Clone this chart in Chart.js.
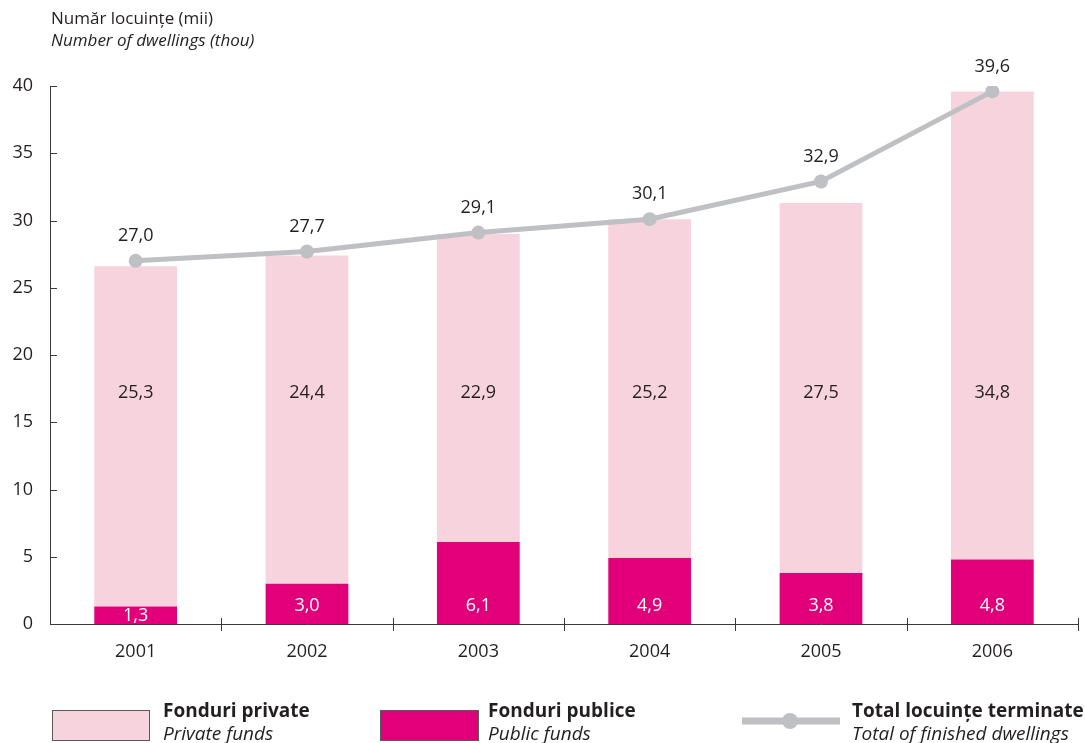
<!DOCTYPE html>
<html>
<head>
<meta charset="utf-8">
<script src="https://cdn.jsdelivr.net/npm/chart.js@4"></script>
<style>
  body { margin: 0; background: #fff; }
  canvas { display: block; }
</style>
</head>
<body>
<canvas id="dwellingsChart" width="1085" height="743"></canvas>
<script>
// date (mii locuinte)
const years = ["2001", "2002", "2003", "2004", "2005", "2006"];
const publicFunds = [1.3, 3.0, 6.1, 4.9, 3.8, 4.8];
const privateFunds = [25.3, 24.4, 22.9, 25.2, 27.5, 34.8];
const totalFinished = [27.0, 27.7, 29.1, 30.1, 32.9, 39.6];
const yTicks = [0, 5, 10, 15, 20, 25, 30, 35, 40];

const PINK = "#F7D3DE";
const MAGENTA = "#E2007A";
const GREY = "#BFC0C4";
const AXIS = "#3a3a3a";
const FONT = "'Open Sans', sans-serif";

const fmt = v => v.toFixed(1).replace(".", ",");

// etichete, tick-uri si legenda desenate pe canvas
const extras = {
  id: "extras",
  afterDraw(chart) {
    const ctx = chart.ctx;
    const x = chart.scales.x;
    const y = chart.scales.y;
    ctx.save();

    // tick-uri axa Y (spre interior)
    ctx.strokeStyle = AXIS;
    ctx.lineWidth = 1;
    yTicks.forEach(t => {
      const py = Math.round(y.getPixelForValue(t)) + 0.5;
      ctx.beginPath();
      ctx.moveTo(x.left, py);
      ctx.lineTo(x.left + 7, py);
      ctx.stroke();
    });
    // tick-uri axa X intre categorii
    for (let i = 1; i <= years.length; i++) {
      const px = Math.round(x.getPixelForValue(i - 0.5)) + 0.5;
      ctx.beginPath();
      ctx.moveTo(px, y.bottom - 6);
      ctx.lineTo(px, y.bottom + 7);
      ctx.stroke();
    }

    // valori fonduri private / publice
    ctx.textAlign = "center";
    ctx.textBaseline = "middle";
    ctx.font = "18px " + FONT;
    const pubMeta = chart.getDatasetMeta(0);
    const privMeta = chart.getDatasetMeta(1);
    const lineMeta = chart.getDatasetMeta(2);
    privateFunds.forEach((v, i) => {
      ctx.fillStyle = "#231f20";
      ctx.fillText(fmt(v), privMeta.data[i].x, y.getPixelForValue(17.2));
    });
    publicFunds.forEach((v, i) => {
      ctx.fillStyle = "#ffffff";
      ctx.fillText(fmt(v), pubMeta.data[i].x, y.getPixelForValue(Math.min(v / 2, 1.45)) + 1);
    });
    totalFinished.forEach((v, i) => {
      const pt = lineMeta.data[i];
      ctx.fillStyle = "#231f20";
      ctx.fillText(fmt(v), pt.x, pt.y - 25);
    });

    // titlu axa
    ctx.textAlign = "left";
    ctx.fillStyle = "#231f20";
    ctx.font = "17px " + FONT;
    ctx.fillText("Număr locuințe (mii)", 51, 19);
    ctx.font = "italic 17px " + FONT;
    ctx.fillText("Number of dwellings (thou)", 51, 41);

    // legenda
    const legendY = 724;
    ctx.lineWidth = 1;
    ctx.strokeStyle = "#5a5a5a";
    ctx.fillStyle = PINK;
    ctx.fillRect(52, 710, 97, 30);
    ctx.strokeRect(52.5, 710.5, 97, 30);
    ctx.fillStyle = MAGENTA;
    ctx.fillRect(380, 710, 98, 30);
    ctx.strokeRect(380.5, 710.5, 98, 30);
    ctx.strokeStyle = GREY;
    ctx.lineWidth = 7;
    ctx.beginPath();
    ctx.moveTo(742, 721);
    ctx.lineTo(840, 721);
    ctx.stroke();
    ctx.fillStyle = GREY;
    ctx.beginPath();
    ctx.arc(790, 721, 8, 0, Math.PI * 2);
    ctx.fill();

    const entries = [
      [163, "Fonduri private", "Private funds"],
      [488, "Fonduri publice", "Public funds"],
      [852, "Total locuințe terminate", "Total of finished dwellings"]
    ];
    entries.forEach(e => {
      ctx.fillStyle = "#231f20";
      ctx.font = "bold 19px " + FONT;
      ctx.fillText(e[1], e[0], legendY - 12);
      ctx.font = "italic 19px " + FONT;
      ctx.fillText(e[2], e[0], legendY + 11);
    });
    ctx.restore();
  }
};

const ctx = document.getElementById("dwellingsChart").getContext("2d");
new Chart(ctx, {
  type: "bar",
  data: {
    labels: years,
    datasets: [
      {
        label: "Fonduri publice",
        data: publicFunds,
        backgroundColor: MAGENTA,
        stack: "funds",
        order: 1,
        barPercentage: 0.483,
        categoryPercentage: 1.0
      },
      {
        label: "Fonduri private",
        data: privateFunds,
        backgroundColor: PINK,
        stack: "funds",
        order: 1,
        barPercentage: 0.483,
        categoryPercentage: 1.0
      },
      {
        type: "line",
        label: "Total locuințe terminate",
        data: totalFinished,
        stack: "total",
        borderColor: GREY,
        backgroundColor: GREY,
        borderWidth: 5,
        pointRadius: 7,
        pointHoverRadius: 7,
        pointBackgroundColor: GREY,
        pointBorderWidth: 0,
        tension: 0,
        order: 0
      }
    ]
  },
  options: {
    responsive: false,
    devicePixelRatio: 1,
    animation: false,
    layout: { padding: { top: 86, right: 5, left: 0, bottom: 0 } },
    plugins: {
      legend: { display: false },
      tooltip: { enabled: false }
    },
    scales: {
      x: {
        stacked: true,
        offset: true,
        grid: { display: false, drawTicks: false },
        border: { display: true, color: AXIS, width: 1 },
        ticks: {
          color: "#231f20",
          font: { family: FONT, size: 18 },
          padding: 17,
          maxRotation: 0
        },
        afterFit(scale) { scale.height = 119; }
      },
      y: {
        stacked: true,
        min: 0,
        max: 40,
        grid: { display: false, drawTicks: false },
        border: { display: true, color: AXIS, width: 1 },
        ticks: {
          stepSize: 5,
          color: "#231f20",
          font: { family: FONT, size: 18 },
          padding: 17
        },
        afterFit(scale) { scale.width = 50; }
      }
    }
  },
  plugins: [extras]
});
</script>
</body>
</html>
